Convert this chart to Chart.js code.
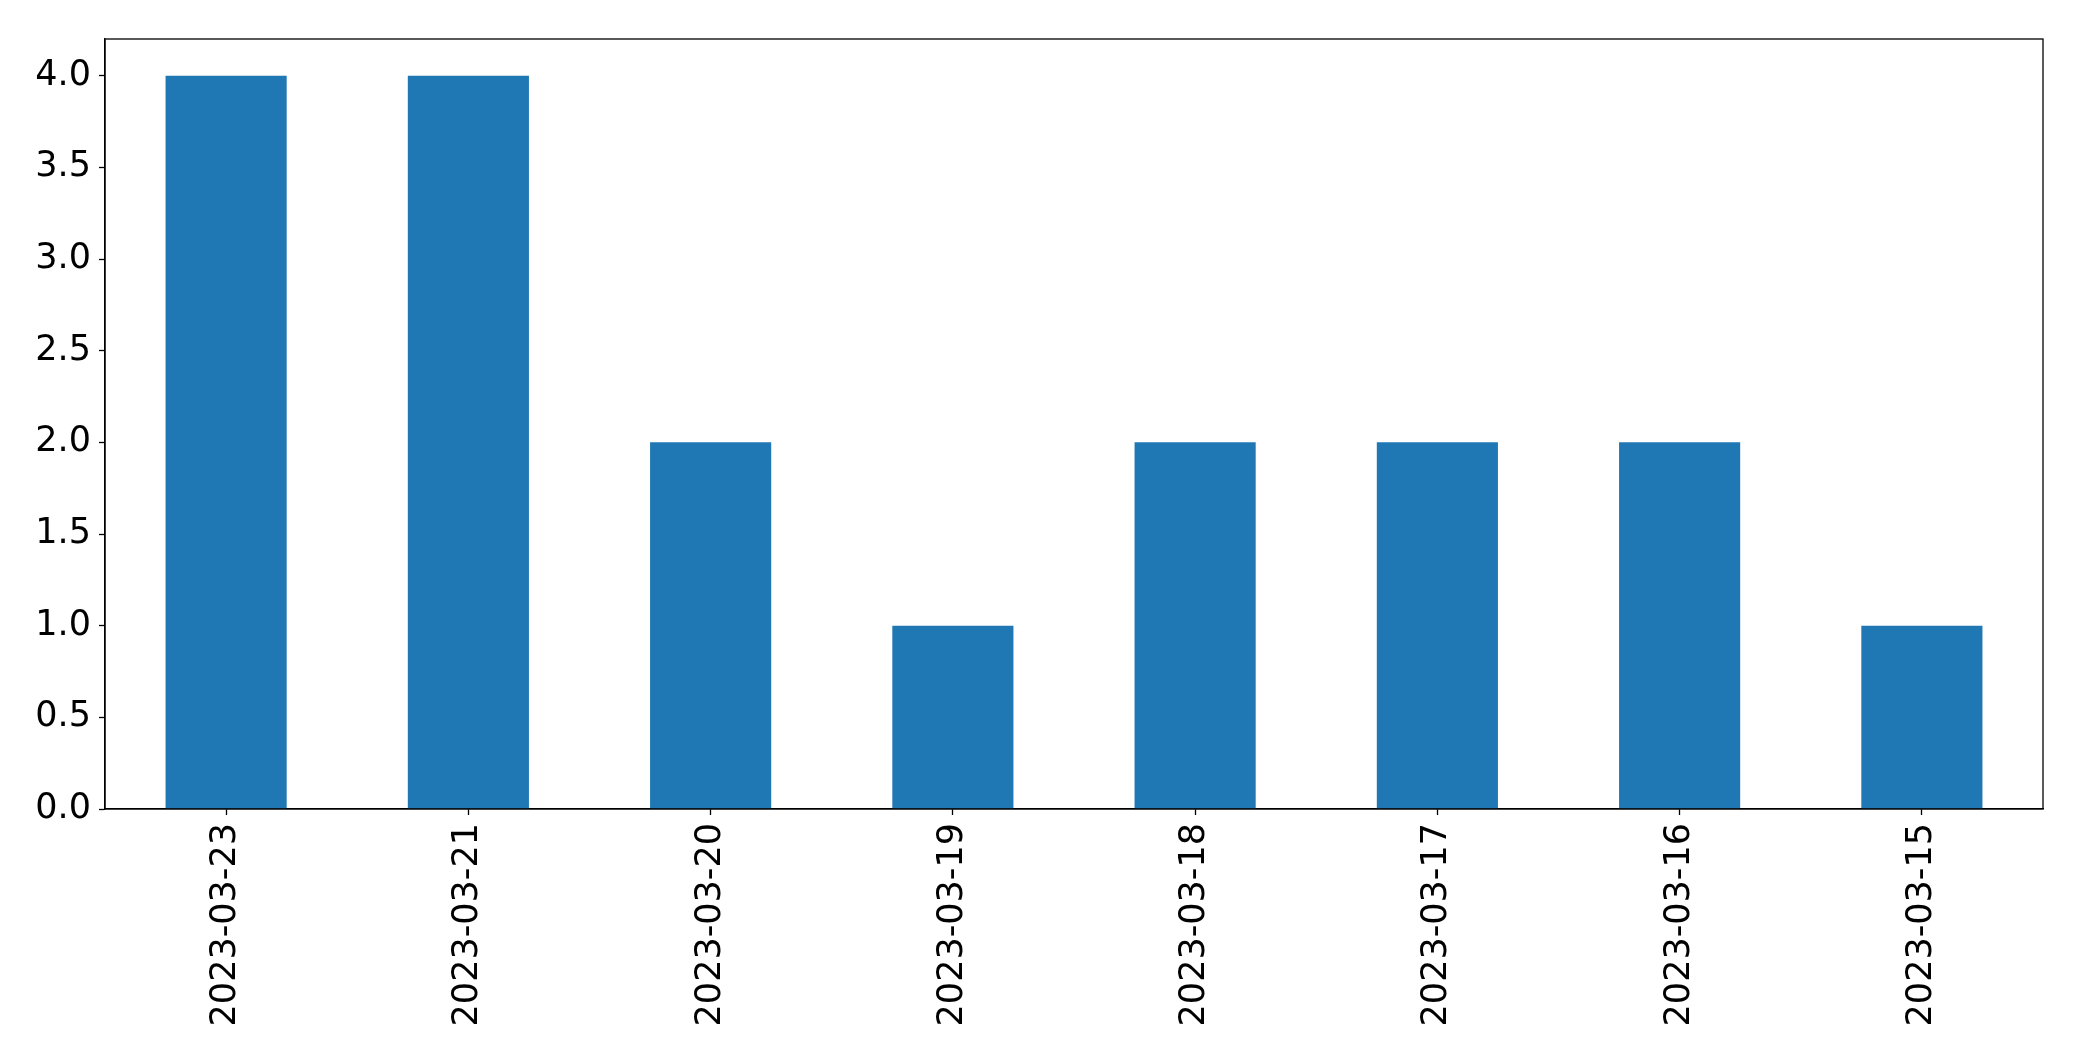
<!DOCTYPE html>
<html>
<head>
<meta charset="utf-8">
<script src="https://cdn.jsdelivr.net/npm/chart.js@4"></script>
<style>
html,body{margin:0;padding:0;background:#fff;}
#c{display:block;}
</style>
</head>
<body>
<canvas id="c" width="2082" height="1061" style="width:2082px;height:1061px"></canvas>
<script>
const categories = ["2023-03-23","2023-03-21","2023-03-20","2023-03-19","2023-03-18","2023-03-17","2023-03-16","2023-03-15"];
const counts = [4, 4, 2, 1, 2, 2, 2, 1];
const yTickValues = [0, 0.5, 1.0, 1.5, 2.0, 2.5, 3.0, 3.5, 4.0];

const frame = {
  id: 'frame',
  afterDatasetsDraw(chart) {
    const a = chart.chartArea, ctx = chart.ctx;
    ctx.save();
    ctx.strokeStyle = '#000';
    ctx.lineWidth = 1.3;
    ctx.strokeRect(a.left, a.top, a.right - a.left, a.bottom - a.top);
    ctx.restore();
  }
};
const bg = {
  id: 'bg',
  beforeDraw(chart) {
    const ctx = chart.ctx;
    ctx.save();
    ctx.fillStyle = '#fff';
    ctx.fillRect(0, 0, chart.width, chart.height);
    ctx.restore();
  }
};

new Chart(document.getElementById('c'), {
  type: 'bar',
  data: {
    labels: categories,
    datasets: [{
      data: counts,
      backgroundColor: '#1f77b4',
      borderWidth: 0,
      categoryPercentage: 0.5,
      barPercentage: 1.0
    }]
  },
  options: {
    responsive: false,
    animation: false,
    devicePixelRatio: 1,
    layout: { padding: { top: 39, right: 39, left: 0, bottom: 0 } },
    plugins: { legend: { display: false }, tooltip: { enabled: false } },
    scales: {
      x: {
        offset: true,
        grid: { display: true, drawOnChartArea: false, drawTicks: true, tickLength: 6, tickColor: '#000', tickWidth: 1.3, offset: false },
        border: { display: true, color: '#000', width: 1.3 },
        ticks: {
          color: '#000',
          font: { family: 'DejaVu Sans', size: 35 },
          maxRotation: 90, minRotation: 90,
          padding: 8,
          autoSkip: false
        },
        afterFit(scale) { scale.height = 252; }
      },
      y: {
        min: 0, max: 4.2,
        grid: { display: true, drawOnChartArea: false, drawTicks: true, tickLength: 6, tickColor: '#000', tickWidth: 1.3 },
        border: { display: true, color: '#000', width: 1.3 },
        afterBuildTicks(scale) { scale.ticks = yTickValues.map(v => ({ value: v })); },
        ticks: {
          color: '#000',
          font: { family: 'DejaVu Sans', size: 35 },
          padding: 8,
          callback: v => Number(v).toFixed(1)
        },
        afterFit(scale) { scale.width = 105; }
      }
    }
  },
  plugins: [bg, frame]
});
</script>
</body>
</html>
